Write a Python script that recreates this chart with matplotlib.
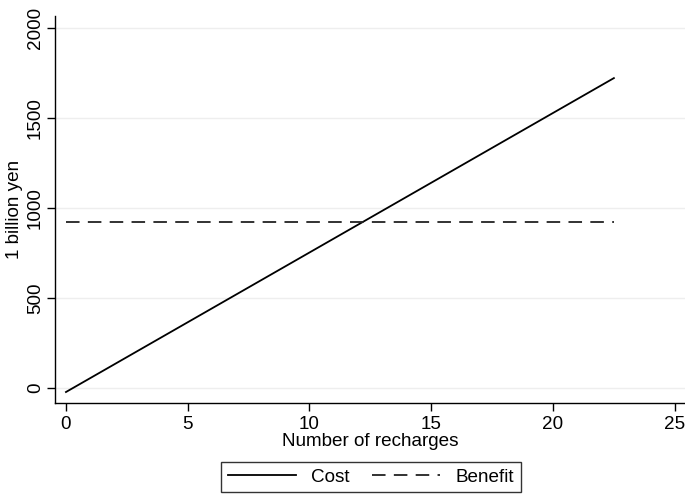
import matplotlib.pyplot as plt

plt.rcParams['font.family'] = ['Liberation Sans', 'DejaVu Sans']

recharges = [0, 22.5]
cost = [-22, 1722]
benefit = [922, 922]
yticks = [0, 500, 1000, 1500, 2000]
xticks = [0, 5, 10, 15, 20, 25]

fig = plt.figure(figsize=(6.85, 4.94), dpi=100)
ax = fig.add_axes([55 / 685, 1 - 403 / 494, 630 / 685, 387 / 494])

ax.plot(recharges, cost, color='black', lw=1.3, label='Cost')
ax.plot(recharges, benefit, color='#222222', lw=1.3, ls=(0, (7.5, 4.6)), label='Benefit')

ax.set_xlim(-0.45, 25.42)
ax.set_ylim(-83, 2067)
ax.set_xticks(xticks)
ax.set_yticks(yticks)
ax.grid(axis='y', color='#eeeeee', lw=1)
ax.set_axisbelow(True)
for s in ['top', 'right']:
    ax.spines[s].set_visible(False)
for s in ['left', 'bottom']:
    ax.spines[s].set_linewidth(1)
ax.tick_params(axis='both', labelsize=13.6, length=6, width=1, direction='out')
ax.tick_params(axis='y', pad=2)
for lab in ax.get_yticklabels():
    lab.set_rotation(90)
    lab.set_va('center')
ax.set_xlabel('Number of recharges', fontsize=13.6, labelpad=0)
ax.set_ylabel('1 billion yen', fontsize=13.6, labelpad=3)

leg = fig.legend(loc='upper center', bbox_to_anchor=(371 / 685, 1 - 462 / 494),
                 ncol=2, fontsize=13.6, frameon=True, fancybox=False,
                 edgecolor='black', handlelength=3.6, columnspacing=1.2,
                 handletextpad=0.8, borderpad=0.35, borderaxespad=0)
leg.get_frame().set_linewidth(1)

fig.savefig('out.png', dpi=100)
